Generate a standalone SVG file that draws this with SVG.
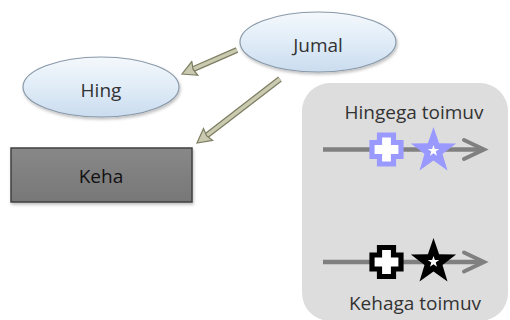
<svg xmlns="http://www.w3.org/2000/svg" width="510" height="320" viewBox="0 0 510 320">
<style>
.lbl{font-family:"Open Sans","Liberation Sans",sans-serif;font-size:19px;fill:#333333;text-anchor:middle}
.ell{fill:url(#eg);stroke:#8a9aaa;stroke-width:1.2;filter:url(#sh)}
.conOut{stroke:#7d7d62;stroke-width:6;fill:none}
.conIn{stroke:#cacab0;stroke-width:3.5;fill:none}
.axis{stroke:#808080;stroke-width:4.5;fill:none}
.chev{stroke:#808080;stroke-width:4;fill:none;stroke-linecap:round;stroke-linejoin:miter}
.cross{fill:#ffffff;stroke-width:5.2}
</style>
<defs>
<linearGradient id="eg" x1="0" y1="0" x2="0" y2="1">
<stop offset="0" stop-color="#f4f8fc"/>
<stop offset="0.5" stop-color="#e0ecf7"/>
<stop offset="1" stop-color="#cadcef"/>
</linearGradient>
<linearGradient id="rg" x1="0" y1="0" x2="0" y2="1">
<stop offset="0" stop-color="#888888"/>
<stop offset="1" stop-color="#777777"/>
</linearGradient>
<filter id="sh" x="-20%" y="-20%" width="140%" height="150%">
<feDropShadow dx="1" dy="2" stdDeviation="1.5" flood-color="#000" flood-opacity="0.25"/>
</filter>
<marker id="ah" viewBox="-1 -9 17 18" markerWidth="17" markerHeight="18" refX="2" refY="0" orient="auto" markerUnits="userSpaceOnUse">
<path d="M0,-7.5 L14,0 L0,7.5 L2,0 Z" fill="#cacab0" stroke="#7d7d62" stroke-width="1.2" stroke-linejoin="miter"/>
</marker>
</defs>

<rect x="302" y="83" width="206" height="238" rx="28" fill="#dddddd"/>

<g id="connectors">
<line class="conOut" x1="237" y1="50" x2="193" y2="69.2"/>
<line class="conIn" x1="237" y1="50" x2="193" y2="69.2" marker-end="url(#ah)"/>
<line class="conOut" x1="280" y1="79" x2="206.5" y2="135.7"/>
<line class="conIn" x1="280" y1="79" x2="206.5" y2="135.7" marker-end="url(#ah)"/>
</g>

<g id="node-jumal">
<ellipse class="ell" cx="318" cy="42" rx="78" ry="30"/>
<text class="lbl" x="318" y="52">Jumal</text>
</g>

<g id="node-hing">
<ellipse class="ell" cx="101" cy="87" rx="78" ry="30"/>
<text class="lbl" x="101" y="97">Hing</text>
</g>

<g id="node-keha">
<rect x="11" y="148" width="181" height="54" fill="url(#rg)" stroke="#404040" stroke-width="1.5" filter="url(#sh)"/>
<text class="lbl" x="101" y="183" style="fill:#111111">Keha</text>
</g>

<g id="legend">
<text class="lbl" x="414" y="119">Hingega toimuv</text>
<line class="axis" x1="323" y1="149.5" x2="483" y2="149.5"/>
<polyline class="chev" points="464,140 484,149.5 464,159"/>
<path class="cross" d="M379.5,135 h14 v7.5 h7.5 v14 h-7.5 v7.5 h-14 v-7.5 h-7.5 v-14 h7.5 Z" stroke="#9999ff"/>
<polygon points="433.5,127 439.1,143.3 456.1,143.6 442.5,153.9 447.5,170.4 433.5,160.5 419.5,170.4 424.5,153.9 410.9,143.6 427.9,143.3" fill="#9999ff"/>
<polygon points="433.5,145 434.9,149.1 439.2,149.1 435.7,151.6 437,155.7 433.5,153.2 430,155.7 431.3,151.6 427.8,149.1 432.1,149.1" fill="#ffffff"/>

<text class="lbl" x="415" y="310">Kehaga toimuv</text>
<line class="axis" x1="323" y1="262" x2="483" y2="262"/>
<polyline class="chev" points="464,252.5 484,262 464,271.5"/>
<path class="cross" d="M379.5,247.5 h14 v7.5 h7.5 v14 h-7.5 v7.5 h-14 v-7.5 h-7.5 v-14 h7.5 Z" stroke="#000000"/>
<polygon points="433.5,238 439.1,254.3 456.1,254.6 442.5,264.9 447.5,281.4 433.5,271.5 419.5,281.4 424.5,264.9 410.9,254.6 427.9,254.3" fill="#000000"/>
<polygon points="433.5,256 434.9,260.1 439.2,260.1 435.7,262.6 437,266.7 433.5,264.2 430,266.7 431.3,262.6 427.8,260.1 432.1,260.1" fill="#ffffff"/>
</g>
</svg>
